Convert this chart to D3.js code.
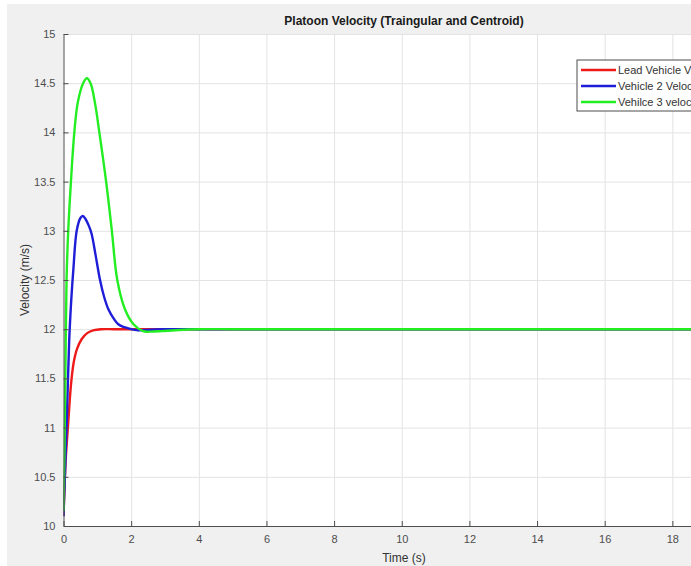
<!DOCTYPE html>
<html>
<head>
<meta charset="utf-8">
<script src="https://cdn.jsdelivr.net/npm/d3@7"></script>
<style>
  body { margin: 0; background: #fff; }
  svg { display: block; font-family: Arial, "Liberation Sans", sans-serif; }
  .grid line { stroke: #e3e3e3; stroke-width: 1; }
  .grid path { display: none; }
  .axis path, .axis line { stroke: #4d4d4d; }
  .axis text { fill: #4d4d4d; font-size: 11px; }
</style>
</head>
<body>
<script>
// values
var xTicks = [0, 2, 4, 6, 8, 10, 12, 14, 16, 18];
var yTicks = [10, 10.5, 11, 11.5, 12, 12.5, 13, 13.5, 14, 14.5, 15];
var seriesNames = ["Lead Vehicle Velocity", "Vehicle 2 Velocity", "Vehilce 3 velocity"];
var seriesColors = ["#ee1a1a", "#1e1ed8", "#22ee22"];

var leadT = [0, 0.03, 0.07, 0.14, 0.2, 0.24, 0.3, 0.4, 0.54, 0.7, 0.9, 1.1, 1.5, 2, 3, 4, 8, 12, 16, 20];
var leadV = [10.1, 10.4, 10.7, 11.05, 11.35, 11.5, 11.66, 11.8, 11.9, 11.96, 11.99, 12, 12, 12, 12, 12, 12, 12, 12, 12];

var veh2T = [0, 0.05, 0.1, 0.17, 0.23, 0.29, 0.39, 0.5, 0.57, 0.65, 0.75, 0.83, 0.95, 1.08, 1.2, 1.33, 1.5, 1.62, 1.8, 2.0, 2.2, 2.6, 3, 4, 8, 12, 16, 20];
var veh2V = [10.1, 10.6, 11.1, 11.9, 12.3, 12.6, 13.0, 13.13, 13.15, 13.12, 13.05, 12.97, 12.75, 12.5, 12.33, 12.2, 12.1, 12.05, 12.02, 12.0, 11.99, 11.995, 12, 12, 12, 12, 12, 12];

var veh3T = [0, 0.03, 0.06, 0.09, 0.14, 0.22, 0.32, 0.42, 0.58, 0.69, 0.8, 0.93, 1.06, 1.26, 1.43, 1.59, 1.82, 2.07, 2.35, 2.55, 2.9, 3.3, 4, 5, 8, 12, 16, 20];
var veh3V = [10.15, 10.8, 11.7, 12.5, 13.0, 13.5, 14.0, 14.3, 14.5, 14.55, 14.5, 14.3, 14.0, 13.5, 13.0, 12.5, 12.2, 12.05, 11.98, 11.975, 11.98, 11.99, 12, 12, 12, 12, 12, 12];

var W = 691, H = 566;
var margin = {top: 34, left: 63.5};
var plotW = 676.5, plotH = 492;

var svg = d3.select("body").append("svg")
    .attr("width", W)
    .attr("height", H);

// figure background
svg.append("rect")
    .attr("x", 7).attr("y", 4)
    .attr("width", W - 7).attr("height", H - 4)
    .attr("fill", "#f0f0f0");

var g = svg.append("g")
    .attr("transform", "translate(" + margin.left + "," + margin.top + ")");

g.append("rect")
    .attr("width", plotW).attr("height", plotH)
    .attr("fill", "#fff");

var x = d3.scaleLinear().domain([0, 20]).range([0, plotW]);
var y = d3.scaleLinear().domain([10, 15]).range([plotH, 0]);

// gridlines
g.append("g")
    .attr("class", "grid")
    .attr("transform", "translate(0," + plotH + ")")
    .call(d3.axisBottom(x).tickValues(xTicks.slice(1)).tickSize(-plotH).tickFormat(""));
g.append("g")
    .attr("class", "grid")
    .call(d3.axisLeft(y).tickValues(yTicks.slice(1)).tickSize(-plotW).tickFormat(""));

// lines
g.append("clipPath").attr("id", "clip")
  .append("rect").attr("width", plotW).attr("height", plotH);

var line = d3.line()
    .x(function(d) { return x(d[0]); })
    .y(function(d) { return y(d[1]); })
    .curve(d3.curveCatmullRom.alpha(0.5));

var series = [
  d3.zip(leadT, leadV),
  d3.zip(veh2T, veh2V),
  d3.zip(veh3T, veh3V)
];

g.append("g").attr("clip-path", "url(#clip)")
  .selectAll("path")
  .data(series)
  .enter().append("path")
    .attr("d", line)
    .attr("fill", "none")
    .attr("stroke", function(d, i) { return seriesColors[i]; })
    .attr("stroke-width", 2.4)
    .attr("stroke-linejoin", "round");

// axes (ticks pointing inward)
var xAxis = g.append("g")
    .attr("class", "axis")
    .attr("transform", "translate(0," + plotH + ")")
    .call(d3.axisBottom(x).tickValues(xTicks).tickSizeInner(-5).tickSizeOuter(0).tickPadding(9));
xAxis.selectAll("text").attr("dy", "0.71em");

g.append("g")
    .attr("class", "axis")
    .call(d3.axisLeft(y).tickValues(yTicks).tickSizeInner(-5).tickSizeOuter(0).tickPadding(8)
          .tickFormat(d3.format("")));

// title and labels
svg.append("text")
    .attr("x", 404).attr("y", 25)
    .attr("text-anchor", "middle")
    .style("font-size", "12px")
    .style("font-weight", "bold")
    .attr("fill", "#1a1a1a")
    .text("Platoon Velocity (Traingular and Centroid)");

svg.append("text")
    .attr("x", 404).attr("y", 562)
    .attr("text-anchor", "middle")
    .style("font-size", "12px")
    .attr("fill", "#333")
    .text("Time (s)");

svg.append("text")
    .attr("transform", "translate(29,280) rotate(-90)")
    .attr("text-anchor", "middle")
    .style("font-size", "12px")
    .attr("fill", "#333")
    .text("Velocity (m/s)");

// legend (runs past the right edge, as in the source picture)
var legend = svg.append("g").attr("transform", "translate(577,60)");
legend.append("rect")
    .attr("width", 150).attr("height", 51)
    .attr("fill", "#fff")
    .attr("stroke", "#4d4d4d")
    .attr("stroke-width", 1);

var item = legend.selectAll(".item")
    .data(seriesNames)
    .enter().append("g")
    .attr("class", "item")
    .attr("transform", function(d, i) { return "translate(0," + (10 + i * 16) + ")"; });

item.append("line")
    .attr("x1", 4).attr("x2", 39)
    .attr("stroke", function(d, i) { return seriesColors[i]; })
    .attr("stroke-width", 2.4);

item.append("text")
    .attr("x", 41).attr("dy", "0.35em")
    .style("font-size", "11px")
    .attr("fill", "#333")
    .text(function(d) { return d; });
</script>
</body>
</html>
